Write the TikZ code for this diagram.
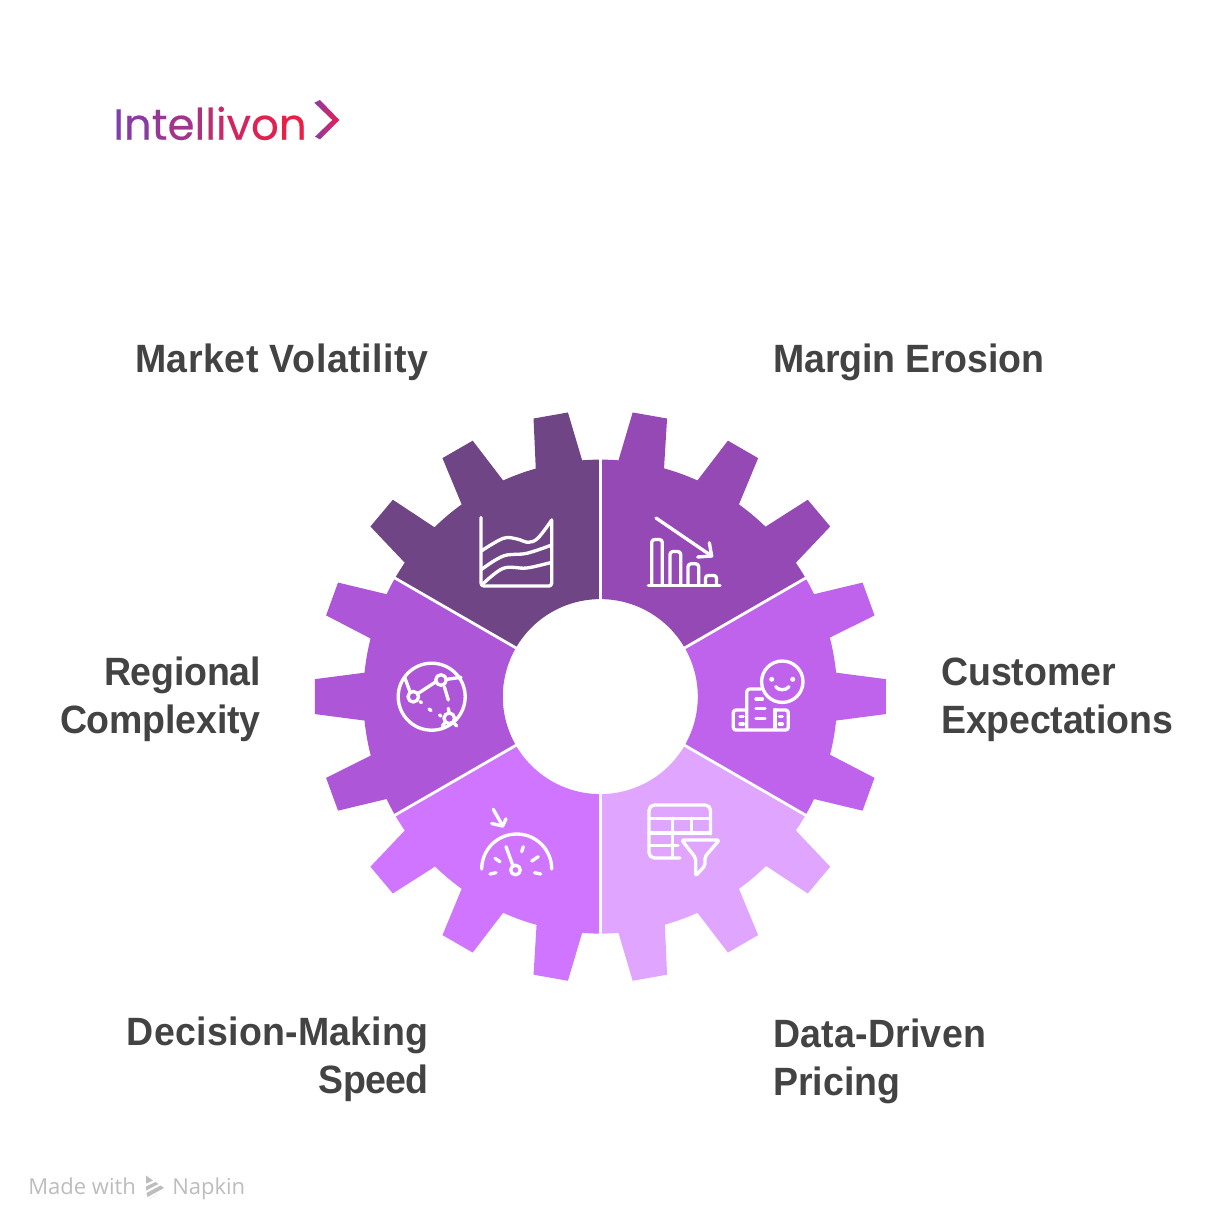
\documentclass[tikz,border=0pt]{standalone}
\usepackage{fontspec}
\setmainfont{Liberation Sans}[FakeStretch=0.95]
\newfontfamily\logofont{Poppins}[FakeBold=0.35]
\newfontfamily\footfont{Open Sans}
\definecolor{ctxt}{HTML}{434343}
\definecolor{cfoot}{HTML}{BDBDBD}
\definecolor{chevA}{HTML}{8A3BA8}
\definecolor{chevB}{HTML}{E81F4C}
\tikzset{
 lbl/.style={inner sep=0pt,text=ctxt,font=\bfseries\fontsize{29.6}{36}\selectfont},
 ico/.style={draw=white,line width=2.5pt,line cap=round,line join=round},
 footlbl/.style={inner sep=0pt,text=cfoot,font=\footfont\fontsize{16.5}{20}\selectfont}
}
\newcommand{\sectorshape}{(90:97.5) -- (90:237) arc[start angle=90,end angle=85.6,radius=237] -- (83.5:286) -- (76.5:286) -- (74.4:237) arc[start angle=74.4,end angle=65.8,radius=237] -- (63.5:286) -- (56.5:286) -- (54.2:237) arc[start angle=54.2,end angle=45.8,radius=237] -- (43.5:286) -- (36.5:286) -- (34.4:237) arc[start angle=34.4,end angle=30,radius=237] -- (30:97.5) arc[start angle=30,end angle=90,radius=97.5] -- cycle}
\begin{document}
\begin{tikzpicture}[x=0.75pt,y=0.75pt]
\useasboundingbox (0,0) rectangle (1224,-1222);
\fill[white] (0,0) rectangle (1224,-1222);
% gear
\foreach \rot/\col in {0/9549B5,-60/BF63EC,-120/E0A5FF,-180/CF75FF,-240/AD57D8,-300/6F4585}{
  \definecolor{csec}{HTML}{\col}
  \begin{scope}[shift={(600.3,-696.6)},rotate=\rot]
    \fill[csec] \sectorshape;
  \end{scope}
}
\begin{scope}[shift={(600.3,-696.6)}]
  \foreach \a in {30,90,150,210,270,330}{
    \draw[white,line width=2.1pt] (\a:95) -- (\a:250);
  }
\end{scope}
% Market icon
\draw[ico] (481,-517.5) -- (481,-583) to[out=-90,in=180] (484,-586) -- (549,-586) to[out=0,in=-90] (551.7,-583) -- (551.7,-520);
\draw[ico] plot[smooth,tension=.6] coordinates {(481.7,-550.7) (503.3,-538.3) (517,-539) (528.3,-542.3) (538,-538) (551.7,-520)};
\draw[ico] plot[smooth,tension=.6] coordinates {(481.7,-569.3) (503.3,-556) (526.7,-553.3) (551.7,-545)};
\draw[ico] plot[smooth,tension=.6] coordinates {(481.7,-585) (503.3,-568.3) (526.7,-568) (551.7,-562.3)};
% Margin icon
\draw[ico] (648.3,-585.3) -- (720,-585.3);
\draw[ico,rounded corners=2.2pt] (651.7,-585) -- (651.7,-539.5) -- (662.3,-539.5) -- (662.3,-585);
\draw[ico,rounded corners=2.2pt] (670,-585) -- (670,-551.5) -- (680.7,-551.5) -- (680.7,-585);
\draw[ico,rounded corners=2.2pt] (688,-585) -- (688,-563.8) -- (698.7,-563.8) -- (698.7,-585);
\draw[ico,rounded corners=2pt] (705.5,-585) -- (705.5,-575.5) -- (716.5,-575.5) -- (716.5,-585);
\draw[ico] (656,-518) -- (711.7,-556);
\draw[ico] (709.3,-542.7) -- (711.7,-556) -- (697.7,-557);
% Customer icon
\draw[ico] (782.3,-681.7) circle[radius=20.7];
\fill[white] (771.7,-679.3) circle[radius=2.5];
\fill[white] (792.7,-679.3) circle[radius=2.5];
\draw[ico] (775.7,-686.7) to[out=-50,in=180] (782.3,-689.7) to[out=0,in=230] (789,-686.7);
\draw[ico] (746.7,-729) -- (746.7,-692) to[out=90,in=180] (749.7,-689) -- (761,-689);
\draw[ico] (775,-729) -- (775,-709.5);
\draw[ico,rounded corners=2pt] (746.7,-710) -- (733.3,-710) -- (733.3,-730) -- (788.3,-730) -- (788.3,-710) -- (775,-710);
\draw[ico] (756,-699) -- (762.5,-699) (756,-708.5) -- (765,-708.5) (756,-718.5) -- (765,-718.5);
\draw[ico] (740,-716.7) -- (743.3,-716.7) (740,-724) -- (743.3,-724) (779.3,-716.7) -- (782.3,-716.7) (779.3,-724) -- (782.3,-724);
% Data icon
\draw[ico,rounded corners=4pt] (680,-858) -- (649,-858) -- (649,-805) -- (710.5,-805) -- (710.5,-834);
\draw[ico] (649,-818.3) -- (710.5,-818.3) (649,-833) -- (710.5,-833) (649,-845.7) -- (678,-845.7);
\draw[ico] (672.7,-818.3) -- (672.7,-858) (691.7,-818.3) -- (691.7,-834);
\draw[ico,rounded corners=1.5pt] (681.7,-840) -- (719.3,-840) -- (705,-856.7) -- (705,-865.7) -- (695.7,-875.7) -- (695.7,-858) -- cycle;
% Decision icon
\draw[ico] (493.3,-809.3) -- (502.7,-826);
\draw[ico] (491.7,-823.5) -- (502.7,-826) -- (506,-818.8);
\draw[ico] (481.7,-869) arc[start angle=180,end angle=0,radius=35];
\draw[ico] (506,-846.7) -- (512.7,-865);
\draw[ico] (515.5,-870) circle[radius=4.8];
\draw[ico] (495,-858.3) -- (500,-861.7) (521.7,-851.7) -- (523.3,-846.7) (531.7,-861) -- (538.3,-856.7) (490,-874) -- (496,-872.7) (534.5,-872.7) -- (540.7,-874);
% Regional icon
\draw[ico] (431.7,-696.7) circle[radius=33.5];
\draw[ico] (413.3,-696.7) circle[radius=5.3];
\draw[ico] (441,-680) circle[radius=5.3];
\draw[ico] (449.3,-718.3) circle[radius=5.3];
\draw[ico] (418.3,-693.3) -- (435,-682.3) (447,-679.3) -- (461,-677.3) (444.3,-686.7) -- (448.3,-700) (410,-691.7) -- (405,-678.3);
\draw[ico] (420,-701.7) -- (421.5,-702.5) (429,-709) -- (431,-710.5) (439.5,-715) -- (441,-716);
\draw[ico] (448.3,-708.3) -- (449,-712) (442.3,-726) -- (445,-722.5) (456.7,-726) -- (453.5,-722.5);
% Labels
\node[lbl,anchor=base east] (market) at (429,-372.5) {\addfontfeature{LetterSpace=1.5}Market Volatility};
\node[lbl,anchor=base west] (margin) at (773,-372.5) {\addfontfeature{LetterSpace=-.4}Margin Erosion};
\node[lbl,anchor=base east,align=right] (regional) at (261,-733.5) {\addfontfeature{LetterSpace=-.6}Regional\\\addfontfeature{LetterSpace=-.4}Complexity};
\node[lbl,anchor=base west,align=left] (customer) at (941,-733.5) {\addfontfeature{LetterSpace=-.2}Customer\\\addfontfeature{LetterSpace=-.4}Expectations};
\node[lbl,anchor=base east,align=right] (decision) at (429,-1093.5) {\addfontfeature{LetterSpace=.7}Decision-Making\\\addfontfeature{LetterSpace=-1.5}Speed};
\node[lbl,anchor=base west,align=left] (data) at (773,-1095.5) {\addfontfeature{LetterSpace=.6}Data-Driven\\\addfontfeature{LetterSpace=0}Pricing};
% Logo
\node[inner sep=0pt,anchor=base west,font=\logofont\fontsize{32.6}{40}\selectfont] (logo) at (113,-139.7) {\textcolor[HTML]{7E3FAF}{I}\textcolor[HTML]{8A3BA3}{n}\textcolor[HTML]{963898}{t}\textcolor[HTML]{A2348C}{e}\textcolor[HTML]{AE3080}{l}\textcolor[HTML]{BB2D75}{l}\textcolor[HTML]{C72969}{i}\textcolor[HTML]{D3255D}{v}\textcolor[HTML]{DF2252}{o}\textcolor[HTML]{EB1E46}{n}};
\shade[left color=chevA,right color=chevB] (314.3,-102.7) -- (320,-100) -- (339.3,-120) -- (320,-139.3) -- (315,-136.7) -- (332.3,-120) -- cycle;
% Footer
\node[footlbl,anchor=base west] (made) at (28,-1194) {Made with};
\node[footlbl,anchor=base west] (napkin) at (172,-1194) {Napkin};
\fill[cfoot] (146,-1175.5) -- (153,-1180.5) -- (146,-1183.5) -- cycle;
\fill[cfoot] (146,-1186.5) -- (155.5,-1182) -- (158.5,-1184) -- (146,-1190.5) -- cycle;
\fill[cfoot] (146.5,-1193) -- (160.5,-1185.5) -- (164,-1188) -- (147.5,-1197) -- cycle;
\fill[cfoot] (150,-1198.5) -- (158,-1193.5) -- cycle;
\end{tikzpicture}
\end{document}
